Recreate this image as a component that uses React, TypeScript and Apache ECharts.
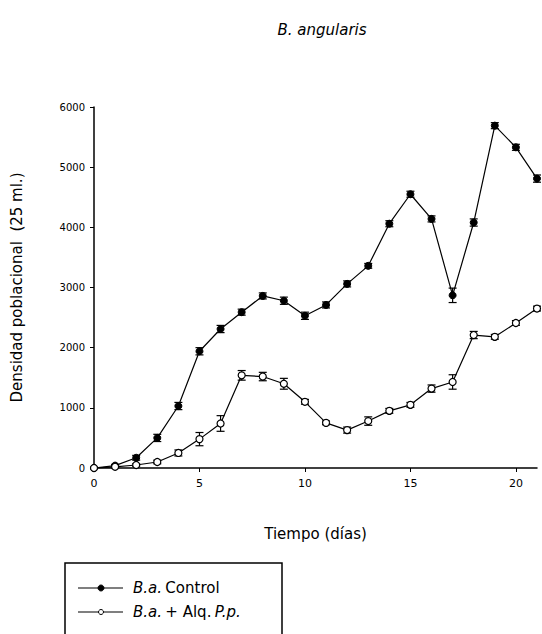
import React, { useEffect, useRef } from "react";
import * as echarts from "echarts";

const days = [0,1,2,3,4,5,6,7,8,9,10,11,12,13,14,15,16,17,18,19,20,21];
const control = [0,40,170,500,1030,1940,2310,2590,2860,2780,2530,2710,3060,3360,4060,4550,4140,2870,4080,5690,5330,4810];
const controlErr = [0,20,40,60,60,60,60,50,50,60,60,50,50,40,50,50,50,120,60,50,50,60];
const alga = [0,20,50,100,250,480,740,1540,1520,1400,1100,750,630,780,950,1050,1320,1430,2210,2180,2410,2650];
const algaErr = [0,20,20,30,50,110,130,80,70,90,40,30,50,70,40,40,60,120,60,40,40,40];
const yTicks = [0,1000,2000,3000,4000,5000,6000];
const xTicks = [0,5,10,15,20];

const FONT = "DejaVu Sans";

function errorSeries(vals: number[], errs: number[]) {
  return {
    type: "custom",
    z: 1,
    silent: true,
    clip: false,
    data: days.map((d, i) => [d, vals[i], errs[i]]),
    renderItem: (params: any, api: any) => {
      const x = api.value(0), y = api.value(1), e = api.value(2);
      if (!e) return null;
      const top = api.coord([x, y + e]);
      const bot = api.coord([x, y - e]);
      const hw = 4;
      const st = { stroke: "#000", lineWidth: 1.2 };
      return {
        type: "group",
        children: [
          { type: "line", shape: { x1: top[0], y1: top[1], x2: bot[0], y2: bot[1] }, style: st },
          { type: "line", shape: { x1: top[0] - hw, y1: top[1], x2: top[0] + hw, y2: top[1] }, style: st },
          { type: "line", shape: { x1: bot[0] - hw, y1: bot[1], x2: bot[0] + hw, y2: bot[1] }, style: st },
        ],
      };
    },
  };
}

export default function App() {
  const ref = useRef<HTMLDivElement>(null);
  useEffect(() => {
    if (!ref.current) return;
    document.body.style.margin = "0";
    const chart = echarts.init(ref.current, null, { renderer: "svg" });
    const legendX = 78, legendY1 = 588, legendY2 = 612;
    const richStyles = {
      i: { fontFamily: FONT, fontStyle: "italic", fontSize: 15, fill: "#000" },
      n: { fontFamily: FONT, fontSize: 15, fill: "#000" },
    };
    chart.setOption({
      animation: false,
      backgroundColor: "#fff",
      title: {
        text: "B. angularis",
        left: 317,
        top: 17,
        textAlign: "center",
        textStyle: { fontFamily: FONT, fontStyle: "italic", fontWeight: "normal", fontSize: 15, color: "#000" },
      },
      grid: { left: 94, top: 107, right: 5, bottom: 166, containLabel: false },
      xAxis: {
        type: "value",
        min: 0,
        max: 21,
        interval: 5,
        name: "Tiempo (días)",
        nameLocation: "middle",
        nameGap: 58,
        nameTextStyle: { fontFamily: FONT, fontSize: 15, color: "#000" },
        axisLine: { show: true, lineStyle: { color: "#000", width: 1.5 } },
        axisTick: { show: true, length: 4, lineStyle: { color: "#000" } },
        axisLabel: {
          fontFamily: FONT, fontSize: 11, color: "#000", margin: 10,
          formatter: (v: number) => (xTicks.includes(v) ? String(v) : ""),
          showMaxLabel: false,
        },
        splitLine: { show: false },
      },
      yAxis: {
        type: "value",
        min: 0,
        max: 6000,
        interval: 1000,
        name: "Densidad poblacional  (25 ml.)",
        nameLocation: "middle",
        nameGap: 70,
        nameTextStyle: { fontFamily: FONT, fontSize: 15, color: "#000" },
        axisLine: { show: true, lineStyle: { color: "#000", width: 1.5 } },
        axisTick: { show: true, length: 4, lineStyle: { color: "#000" } },
        axisLabel: {
          fontFamily: FONT, fontSize: 10, color: "#000", margin: 9,
          formatter: (v: number) => (yTicks.includes(v) ? String(v) : ""),
        },
        splitLine: { show: false },
      },
      series: [
        errorSeries(control, controlErr),
        errorSeries(alga, algaErr),
        {
          name: "B.a. Control",
          type: "line",
          z: 3,
          clip: false,
          data: days.map((d, i) => [d, control[i]]),
          symbol: "circle",
          symbolSize: 7,
          itemStyle: { color: "#000", borderColor: "#000", borderWidth: 1 },
          lineStyle: { color: "#000", width: 1.2 },
        },
        {
          name: "B.a. + Alq. P.p.",
          type: "line",
          z: 3,
          clip: false,
          data: days.map((d, i) => [d, alga[i]]),
          symbol: "circle",
          symbolSize: 7,
          itemStyle: { color: "#fff", borderColor: "#000", borderWidth: 1.2 },
          lineStyle: { color: "#000", width: 1.2 },
        },
      ],
      graphic: [
        { type: "rect", shape: { x: 65, y: 563, width: 217, height: 80 }, style: { fill: "none", stroke: "#000", lineWidth: 1.5 } },
        { type: "line", shape: { x1: legendX, y1: legendY1, x2: legendX + 45, y2: legendY1 }, style: { stroke: "#000", lineWidth: 1.2 } },
        { type: "circle", shape: { cx: legendX + 23, cy: legendY1, r: 3 }, style: { fill: "#000", stroke: "#000" } },
        { type: "line", shape: { x1: legendX, y1: legendY2, x2: legendX + 45, y2: legendY2 }, style: { stroke: "#000", lineWidth: 1.2 } },
        { type: "circle", shape: { cx: legendX + 23, cy: legendY2, r: 2.5 }, style: { fill: "#fff", stroke: "#000", lineWidth: 1 } },
        {
          type: "text", x: 133, y: legendY1, style: {
            text: "{i|B.a.} {n|Control}", verticalAlign: "middle", rich: richStyles,
          },
        },
        {
          type: "text", x: 133, y: legendY2, style: {
            text: "{i|B.a.} {n|+ Alq.} {i|P.p.}", verticalAlign: "middle", rich: richStyles,
          },
        },
      ],
    });
    return () => chart.dispose();
  }, []);
  return <div ref={ref} style={{ width: 542, height: 634 }} />;
}
